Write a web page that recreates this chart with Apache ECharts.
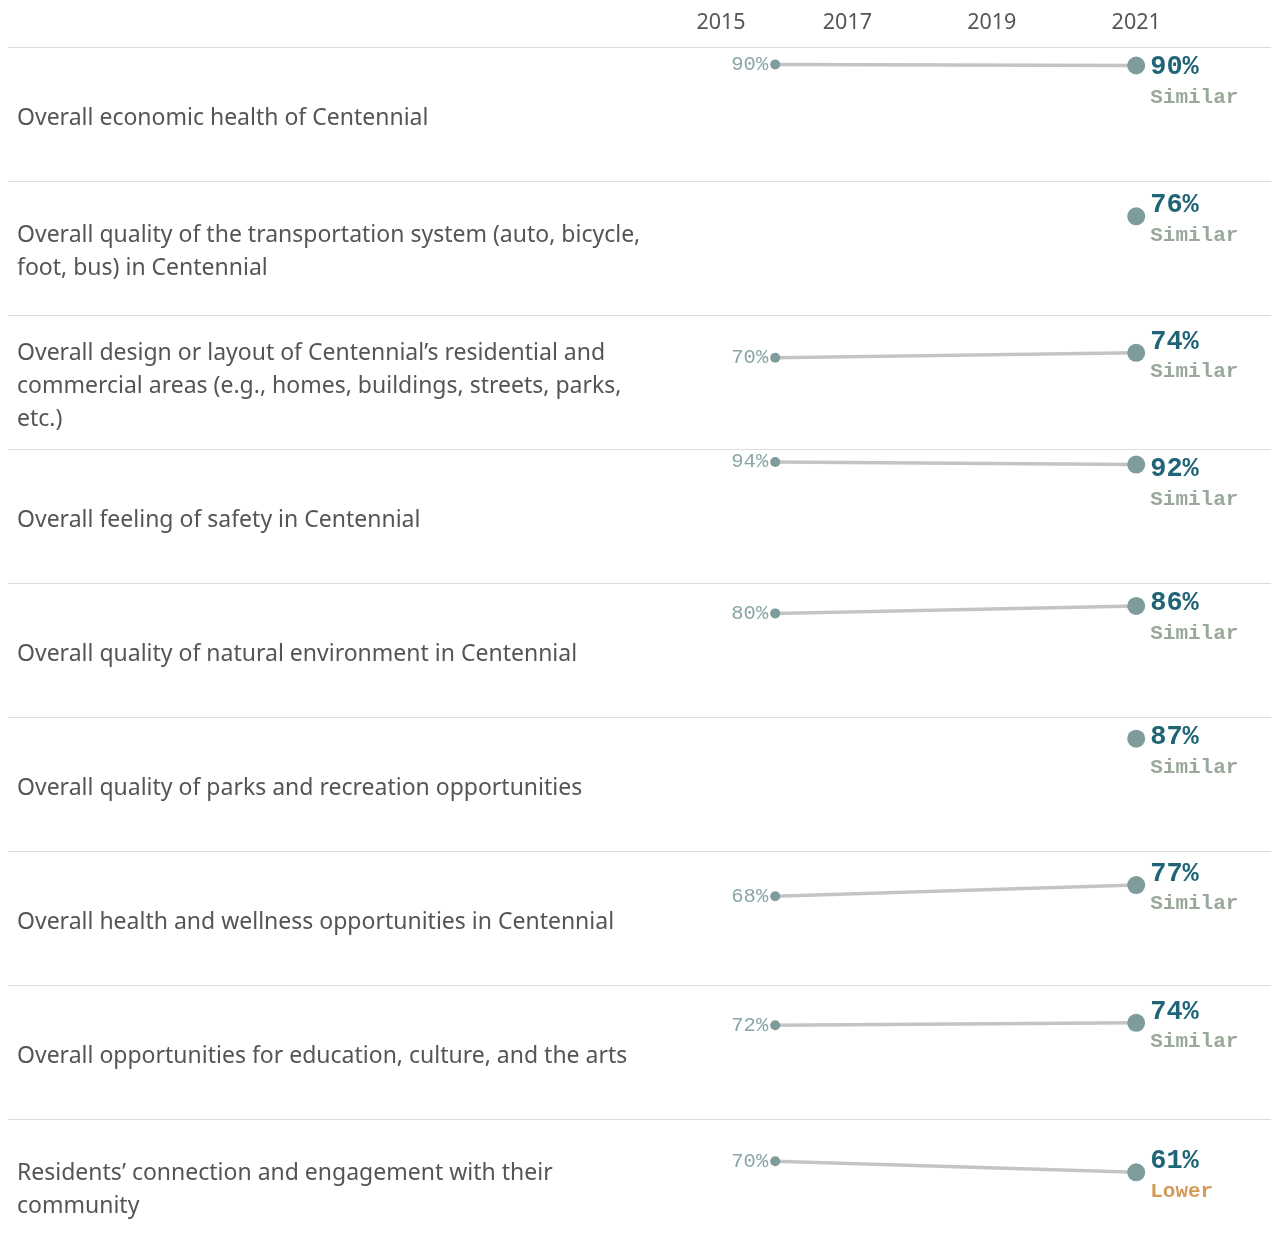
<!DOCTYPE html>
<html>
<head>
<meta charset="utf-8">
<script src="https://cdn.jsdelivr.net/npm/echarts@6/dist/echarts.min.js"></script>
<style>
html,body{margin:0;padding:0;background:#fff;}
#chart{width:1271px;height:1247px;}
</style>
</head>
<body>
<div id="chart"></div>
<script>
// ---- Data ----
var categories = [
  "Overall economic health of Centennial",
  "Overall quality of the transportation system (auto, bicycle,\nfoot, bus) in Centennial",
  "Overall design or layout of Centennial\u2019s residential and\ncommercial areas (e.g., homes, buildings, streets, parks,\netc.)",
  "Overall feeling of safety in Centennial",
  "Overall quality of natural environment in Centennial",
  "Overall quality of parks and recreation opportunities",
  "Overall health and wellness opportunities in Centennial",
  "Overall opportunities for education, culture, and the arts",
  "Residents\u2019 connection and engagement with their\ncommunity"
];
var surveyYears = [2016, 2021];
var values2016 = [90.4, null, 70, 94, 80, null, 68, 72, 70];
var values2021 = [89.6, 76, 74, 92, 86, 87, 77, 74, 61];
var comparisons = ["Similar", "Similar", "Similar", "Similar", "Similar", "Similar", "Similar", "Similar", "Lower"];
var axisYears = [2015, 2017, 2019, 2021];

// ---- Layout ----
var W = 1271;
var rowTop0 = 47, rowH = 134, padTop = 5.6, plotH = 124;
var gridLeft = 703, pxPerYear = 72.2;
var xMin = 2015, xMax = 2022;
var gridRight = W - (gridLeft + (xMax - xMin) * pxPerYear);

var chart = echarts.init(document.getElementById('chart'), null, {renderer: 'canvas'});

var grids = [], xAxes = [], yAxes = [], series = [], graphics = [];

categories.forEach(function (cat, i) {
  var rowTop = rowTop0 + rowH * i;
  grids.push({left: gridLeft, right: gridRight, top: rowTop + padTop, height: plotH});
  xAxes.push({
    type: 'value', gridIndex: i, min: xMin, max: xMax,
    position: 'top',
    show: i === 0,
    axisLine: {show: false}, axisTick: {show: false}, splitLine: {show: false},
    axisLabel: {
      show: i === 0,
      customValues: axisYears,
      margin: 19,
      color: '#555',
      fontFamily: 'Noto Sans',
      fontSize: 21.5,
      formatter: function (v) { return v === axisYears[0] ? '{first|' + v + '}' : String(v); },
      rich: {first: {padding: [0, 0, 0, 36], color: '#555', fontFamily: 'Noto Sans', fontSize: 21.5}}
    }
  });
  yAxes.push({type: 'value', gridIndex: i, min: 0, max: 100, show: false, splitLine: {show: false}});

  var data = [];
  var v0 = values2016[i], v1 = values2021[i];
  if (v0 != null) {
    data.push({
      value: [surveyYears[0], v0],
      symbolSize: 10,
      label: {
        show: true, position: 'left', distance: 2,
        formatter: Math.round(v0) + '%',
        color: '#8aa6a6', fontFamily: 'Liberation Mono', fontSize: 20.5
      }
    });
  }
  var dotY = (100 - v1) * plotH / 100;
  var labelCenter = Math.max(dotY - 13, 13);
  var dy = labelCenter - dotY + 17;
  var cmp = comparisons[i];
  data.push({
    value: [surveyYears[1], v1],
    symbolSize: 18,
    label: {
      show: true, position: 'right', distance: 5, offset: [0, dy],
      formatter: '{a|' + Math.round(v1) + '%}\n{' + (cmp === 'Lower' ? 'c' : 'b') + '|' + cmp + '}',
      rich: {
        a: {fontFamily: 'Liberation Mono', fontWeight: 'bold', fontSize: 27, color: '#1f6577', lineHeight: 30},
        b: {fontFamily: 'Liberation Mono', fontWeight: 'bold', fontSize: 21, color: '#9aa89a', lineHeight: 30},
        c: {fontFamily: 'Liberation Mono', fontWeight: 'bold', fontSize: 21, color: '#d39b58', lineHeight: 30}
      }
    }
  });
  series.push({
    type: 'line', xAxisIndex: i, yAxisIndex: i,
    data: data,
    symbol: 'circle',
    itemStyle: {color: '#7e9c9c'},
    lineStyle: {color: '#c4c4c4', width: 3.5},
    animation: false,
    z: 3
  });

  graphics.push({
    type: 'line', silent: true,
    shape: {x1: 8, y1: rowTop + 0.5, x2: W, y2: rowTop + 0.5},
    style: {stroke: '#dcdcdc', lineWidth: 1}
  });
  graphics.push({
    type: 'text', silent: true,
    x: 17, y: rowTop + rowH / 2 + 4,
    style: {
      text: cat,
      fill: '#555',
      font: '23px "Noto Sans"',
      lineHeight: 33,
      verticalAlign: 'middle',
      textVerticalAlign: 'middle'
    }
  });
});

chart.setOption({
  animation: false,
  backgroundColor: '#fff',
  grid: grids,
  xAxis: xAxes,
  yAxis: yAxes,
  series: series,
  graphic: graphics
});
</script>
</body>
</html>
